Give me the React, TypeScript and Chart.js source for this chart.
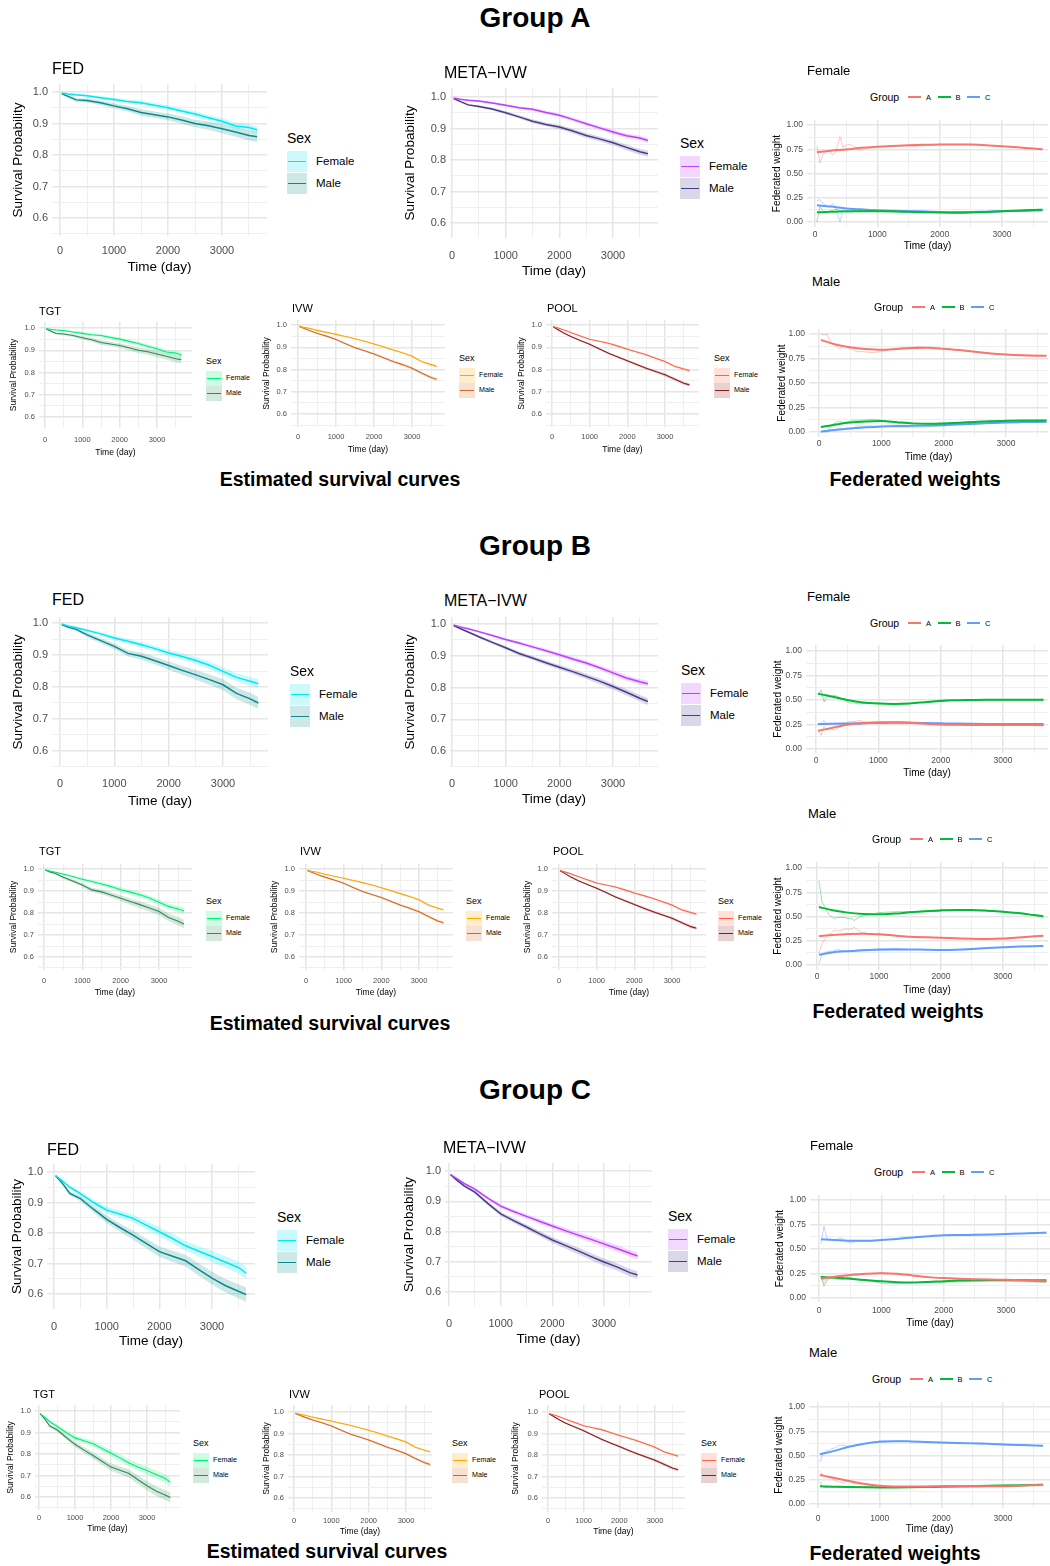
import React, { useEffect, useRef } from "react";
import { Chart, registerables } from "chart.js";
Chart.register(...registerables);

const FONT = "'Liberation Sans', Arial, Helvetica, sans-serif";
const TICK_COLOR = "#4d4d4d";
const GRID_MAJOR = "#e6e6e6";
const GRID_MINOR = "#efefef";

// ---------- time grids ----------
const T = [30, 150, 300, 500, 750, 1000, 1250, 1500, 1750, 2000, 2250, 2500, 2750, 3000, 3250, 3500, 3650];
const WT = [30, 250, 500, 750, 1000, 1250, 1500, 1750, 2000, 2250, 2500, 2750, 3000, 3250, 3500, 3650];
const RT = [30, 80, 130, 180, 230, 280, 330, 400, 450, 500, 550, 600, 700, 850, 1000, 1300, 1600, 2000, 2500, 3000, 3650];

// ---------- axis ticks ----------
const X_TICKS = [0, 500, 1000, 1500, 2000, 2500, 3000, 3500];
const SURV_Y_TICKS = [0.55, 0.6, 0.65, 0.7, 0.75, 0.8, 0.85, 0.9, 0.95, 1.0];
const W_Y_TICKS = [0, 0.125, 0.25, 0.375, 0.5, 0.625, 0.75, 0.875, 1.0];
const GROUPS = ["A", "B", "C"];

// ---------- survival curves ----------
const FED_A_F = [0.997, 0.994, 0.991, 0.988, 0.982, 0.976, 0.970, 0.966, 0.958, 0.950, 0.940, 0.930, 0.918, 0.907, 0.892, 0.887, 0.880];
const FED_A_M = [0.995, 0.986, 0.975, 0.973, 0.966, 0.956, 0.947, 0.935, 0.928, 0.921, 0.911, 0.900, 0.893, 0.883, 0.873, 0.862, 0.858];
const FED_B_F = [0.997, 0.991, 0.985, 0.977, 0.966, 0.953, 0.943, 0.932, 0.920, 0.906, 0.895, 0.883, 0.868, 0.849, 0.830, 0.818, 0.810];
const FED_B_M = [0.995, 0.987, 0.980, 0.963, 0.945, 0.927, 0.905, 0.896, 0.882, 0.867, 0.852, 0.838, 0.823, 0.807, 0.780, 0.763, 0.750];
const FED_C_F = [0.988, 0.972, 0.950, 0.929, 0.900, 0.875, 0.862, 0.848, 0.826, 0.804, 0.782, 0.758, 0.740, 0.723, 0.705, 0.687, 0.668];
const FED_C_M = [0.988, 0.965, 0.930, 0.913, 0.878, 0.845, 0.818, 0.793, 0.766, 0.739, 0.724, 0.709, 0.680, 0.652, 0.628, 0.609, 0.598];
const META_A_F = [0.997, 0.993, 0.990, 0.987, 0.981, 0.974, 0.966, 0.961, 0.951, 0.942, 0.929, 0.915, 0.902, 0.889, 0.877, 0.870, 0.862];
const META_A_M = [0.995, 0.986, 0.975, 0.970, 0.962, 0.950, 0.937, 0.923, 0.913, 0.905, 0.892, 0.878, 0.867, 0.855, 0.840, 0.826, 0.820];
const META_B_F = [0.997, 0.991, 0.985, 0.976, 0.964, 0.951, 0.940, 0.928, 0.916, 0.903, 0.890, 0.877, 0.862, 0.846, 0.830, 0.818, 0.812];
const META_B_M = [0.995, 0.986, 0.975, 0.960, 0.942, 0.925, 0.907, 0.893, 0.878, 0.864, 0.850, 0.835, 0.820, 0.803, 0.785, 0.766, 0.756];
const META_C_F = [0.988, 0.975, 0.958, 0.940, 0.910, 0.884, 0.866, 0.850, 0.834, 0.818, 0.803, 0.788, 0.774, 0.759, 0.744, 0.728, 0.719];
const META_C_M = [0.988, 0.970, 0.950, 0.930, 0.893, 0.858, 0.836, 0.815, 0.793, 0.772, 0.754, 0.736, 0.717, 0.699, 0.683, 0.664, 0.656];
const IVW_F = [0.995, 0.990, 0.985, 0.976, 0.967, 0.958, 0.948, 0.938, 0.927, 0.915, 0.902, 0.888, 0.875, 0.860, 0.836, 0.822, 0.814];
const IVW_M = [0.993, 0.985, 0.975, 0.963, 0.950, 0.935, 0.916, 0.898, 0.884, 0.870, 0.853, 0.836, 0.822, 0.806, 0.784, 0.764, 0.756];
const POOL_F = [0.993, 0.987, 0.979, 0.966, 0.951, 0.936, 0.927, 0.918, 0.905, 0.891, 0.879, 0.866, 0.851, 0.836, 0.815, 0.802, 0.794];
const POOL_M = [0.992, 0.980, 0.965, 0.948, 0.930, 0.913, 0.893, 0.873, 0.856, 0.839, 0.822, 0.806, 0.791, 0.776, 0.757, 0.738, 0.731];

// confidence band half-widths
const CI_FED_A_F = [0.001, 0.002, 0.003, 0.004, 0.005, 0.006, 0.006, 0.007, 0.007, 0.008, 0.008, 0.009, 0.009, 0.010, 0.010, 0.011, 0.011];
const CI_FED_A_M = [0.002, 0.004, 0.005, 0.006, 0.007, 0.008, 0.009, 0.010, 0.010, 0.011, 0.012, 0.012, 0.013, 0.014, 0.015, 0.016, 0.017];
const CI_FED_B_F = [0.001, 0.003, 0.004, 0.005, 0.006, 0.007, 0.008, 0.009, 0.009, 0.010, 0.011, 0.011, 0.012, 0.013, 0.013, 0.014, 0.014];
const CI_FED_B_M = [0.002, 0.004, 0.005, 0.007, 0.008, 0.009, 0.010, 0.011, 0.012, 0.013, 0.014, 0.015, 0.016, 0.017, 0.018, 0.019, 0.019];
const CI_FED_C_F = [0.002, 0.005, 0.007, 0.008, 0.010, 0.011, 0.012, 0.013, 0.014, 0.015, 0.016, 0.016, 0.017, 0.018, 0.019, 0.020, 0.020];
const CI_FED_C_M = [0.002, 0.005, 0.007, 0.009, 0.011, 0.012, 0.013, 0.015, 0.016, 0.017, 0.018, 0.019, 0.020, 0.021, 0.022, 0.023, 0.024];
const CI_META_A_F = [0.001, 0.002, 0.002, 0.003, 0.003, 0.004, 0.004, 0.005, 0.005, 0.005, 0.006, 0.006, 0.006, 0.007, 0.007, 0.007, 0.008];
const CI_META_A_M = [0.001, 0.002, 0.003, 0.004, 0.004, 0.005, 0.005, 0.006, 0.006, 0.007, 0.007, 0.008, 0.008, 0.008, 0.009, 0.009, 0.010];
const CI_META_B_F = [0.001, 0.002, 0.003, 0.003, 0.004, 0.004, 0.005, 0.005, 0.006, 0.006, 0.007, 0.007, 0.007, 0.008, 0.008, 0.009, 0.009];
const CI_META_B_M = [0.001, 0.002, 0.003, 0.004, 0.005, 0.005, 0.006, 0.006, 0.007, 0.007, 0.008, 0.008, 0.009, 0.009, 0.010, 0.010, 0.011];
const CI_META_C_F = [0.002, 0.003, 0.004, 0.005, 0.006, 0.006, 0.007, 0.007, 0.008, 0.008, 0.009, 0.009, 0.010, 0.010, 0.011, 0.011, 0.012];
const CI_META_C_M = [0.002, 0.003, 0.004, 0.005, 0.006, 0.007, 0.008, 0.008, 0.009, 0.010, 0.010, 0.011, 0.011, 0.012, 0.012, 0.013, 0.013];
const CI_IVW_F = [0.001, 0.001, 0.002, 0.002, 0.002, 0.003, 0.003, 0.003, 0.003, 0.004, 0.004, 0.004, 0.004, 0.005, 0.005, 0.005, 0.005];
const CI_IVW_M = [0.001, 0.002, 0.002, 0.003, 0.003, 0.003, 0.004, 0.004, 0.004, 0.005, 0.005, 0.005, 0.006, 0.006, 0.006, 0.007, 0.007];
const CI_POOL_F = [0.001, 0.001, 0.002, 0.002, 0.003, 0.003, 0.003, 0.004, 0.004, 0.004, 0.004, 0.005, 0.005, 0.005, 0.005, 0.006, 0.006];
const CI_POOL_M = [0.001, 0.002, 0.002, 0.003, 0.003, 0.004, 0.004, 0.005, 0.005, 0.005, 0.006, 0.006, 0.006, 0.007, 0.007, 0.007, 0.008];

// ---------- federated weights (smooth on WT, raw on RT) ----------
const WAF_A = [0.720, 0.735, 0.748, 0.765, 0.775, 0.783, 0.790, 0.796, 0.800, 0.800, 0.798, 0.792, 0.782, 0.770, 0.757, 0.750];
const WAF_B = [0.100, 0.105, 0.110, 0.112, 0.112, 0.110, 0.105, 0.100, 0.097, 0.096, 0.098, 0.103, 0.110, 0.117, 0.123, 0.127];
const WAF_C = [0.172, 0.160, 0.140, 0.128, 0.120, 0.115, 0.112, 0.108, 0.103, 0.101, 0.102, 0.106, 0.110, 0.115, 0.118, 0.120];
const WAF_A_RAW = [0.78, 0.61, 0.70, 0.73, 0.74, 0.69, 0.72, 0.88, 0.77, 0.79, 0.80, 0.79, 0.74, 0.76, 0.77, 0.79, 0.78, 0.80, 0.80, 0.78, 0.75];
const WAF_B_RAW = [0.00, 0.16, 0.11, 0.10, 0.11, 0.12, 0.13, 0.12, 0.11, 0.11, 0.11, 0.11, 0.12, 0.11, 0.11, 0.10, 0.10, 0.10, 0.10, 0.11, 0.13];
const WAF_C_RAW = [0.22, 0.23, 0.19, 0.17, 0.15, 0.19, 0.15, 0.00, 0.12, 0.10, 0.09, 0.10, 0.14, 0.13, 0.12, 0.11, 0.12, 0.10, 0.10, 0.11, 0.12];

const WAM_A = [0.940, 0.895, 0.865, 0.848, 0.840, 0.848, 0.858, 0.860, 0.850, 0.836, 0.820, 0.802, 0.790, 0.782, 0.778, 0.778];
const WAM_B = [0.050, 0.075, 0.097, 0.108, 0.112, 0.100, 0.088, 0.083, 0.088, 0.095, 0.103, 0.110, 0.114, 0.117, 0.117, 0.117];
const WAM_C = [0.005, 0.020, 0.035, 0.048, 0.055, 0.060, 0.063, 0.067, 0.072, 0.078, 0.085, 0.092, 0.098, 0.101, 0.103, 0.104];
const WAM_A_RAW = [1.00, 0.99, 1.00, 0.93, 0.90, 0.87, 0.85, 0.88, 0.86, 0.85, 0.84, 0.82, 0.82, 0.81, 0.82, 0.86, 0.87, 0.85, 0.82, 0.79, 0.78];
const WAM_B_RAW = [0.00, 0.01, 0.00, 0.05, 0.08, 0.10, 0.11, 0.09, 0.10, 0.11, 0.12, 0.12, 0.12, 0.13, 0.12, 0.09, 0.08, 0.09, 0.10, 0.11, 0.12];
const WAM_C_RAW = [0.00, 0.00, 0.00, 0.02, 0.02, 0.03, 0.04, 0.03, 0.04, 0.04, 0.04, 0.06, 0.06, 0.06, 0.06, 0.05, 0.05, 0.06, 0.08, 0.10, 0.10];

const WBF_A = [0.185, 0.215, 0.248, 0.265, 0.274, 0.273, 0.268, 0.258, 0.251, 0.248, 0.246, 0.245, 0.245, 0.244, 0.244, 0.243];
const WBF_B = [0.565, 0.535, 0.500, 0.475, 0.464, 0.460, 0.465, 0.477, 0.490, 0.497, 0.500, 0.502, 0.503, 0.503, 0.503, 0.503];
const WBF_C = [0.255, 0.257, 0.260, 0.263, 0.266, 0.267, 0.267, 0.265, 0.262, 0.259, 0.257, 0.256, 0.256, 0.256, 0.256, 0.256];
const WBF_A_RAW = [0.20, 0.14, 0.23, 0.19, 0.21, 0.19, 0.21, 0.23, 0.25, 0.27, 0.28, 0.28, 0.29, 0.27, 0.27, 0.27, 0.26, 0.25, 0.25, 0.25, 0.24];
const WBF_B_RAW = [0.55, 0.60, 0.48, 0.56, 0.53, 0.55, 0.54, 0.52, 0.50, 0.48, 0.47, 0.47, 0.46, 0.47, 0.47, 0.45, 0.47, 0.50, 0.50, 0.50, 0.50];
const WBF_C_RAW = [0.25, 0.26, 0.29, 0.25, 0.26, 0.26, 0.25, 0.25, 0.25, 0.25, 0.25, 0.25, 0.25, 0.26, 0.26, 0.28, 0.27, 0.25, 0.25, 0.25, 0.26];

const WBM_A = [0.297, 0.310, 0.320, 0.322, 0.316, 0.303, 0.291, 0.285, 0.281, 0.275, 0.270, 0.268, 0.272, 0.283, 0.296, 0.302];
const WBM_B = [0.598, 0.565, 0.540, 0.527, 0.522, 0.530, 0.543, 0.554, 0.563, 0.568, 0.567, 0.560, 0.550, 0.535, 0.515, 0.503];
const WBM_C = [0.105, 0.130, 0.143, 0.152, 0.160, 0.162, 0.161, 0.158, 0.155, 0.158, 0.165, 0.175, 0.183, 0.190, 0.194, 0.195];
const WBM_A_RAW = [0.12, 0.22, 0.27, 0.31, 0.33, 0.36, 0.35, 0.36, 0.37, 0.37, 0.37, 0.39, 0.34, 0.32, 0.31, 0.30, 0.29, 0.28, 0.27, 0.27, 0.30];
const WBM_B_RAW = [0.87, 0.65, 0.60, 0.53, 0.50, 0.48, 0.49, 0.49, 0.49, 0.48, 0.48, 0.46, 0.50, 0.52, 0.54, 0.55, 0.55, 0.57, 0.56, 0.55, 0.50];
const WBM_C_RAW = [0.01, 0.11, 0.13, 0.14, 0.14, 0.15, 0.16, 0.15, 0.14, 0.15, 0.15, 0.15, 0.16, 0.16, 0.15, 0.15, 0.16, 0.15, 0.17, 0.18, 0.20];

const WCF_A = [0.197, 0.218, 0.235, 0.248, 0.253, 0.247, 0.230, 0.213, 0.203, 0.197, 0.192, 0.188, 0.185, 0.180, 0.173, 0.170];
const WCF_B = [0.215, 0.207, 0.196, 0.183, 0.170, 0.161, 0.158, 0.163, 0.172, 0.178, 0.182, 0.184, 0.184, 0.183, 0.181, 0.180];
const WCF_C = [0.600, 0.592, 0.585, 0.585, 0.592, 0.603, 0.617, 0.630, 0.640, 0.643, 0.645, 0.648, 0.653, 0.658, 0.664, 0.667];
const WCF_A_RAW = [0.22, 0.15, 0.22, 0.20, 0.20, 0.19, 0.20, 0.21, 0.22, 0.23, 0.23, 0.23, 0.24, 0.25, 0.26, 0.24, 0.22, 0.20, 0.19, 0.18, 0.17];
const WCF_B_RAW = [0.23, 0.12, 0.18, 0.20, 0.21, 0.21, 0.19, 0.19, 0.21, 0.21, 0.20, 0.19, 0.18, 0.17, 0.15, 0.15, 0.16, 0.16, 0.17, 0.17, 0.16];
const WCF_C_RAW = [0.55, 0.73, 0.60, 0.60, 0.59, 0.60, 0.61, 0.60, 0.57, 0.56, 0.57, 0.58, 0.58, 0.58, 0.59, 0.61, 0.62, 0.64, 0.64, 0.65, 0.67];

const WCM_A = [0.300, 0.270, 0.238, 0.208, 0.188, 0.180, 0.180, 0.181, 0.182, 0.183, 0.184, 0.184, 0.184, 0.188, 0.194, 0.198];
const WCM_B = [0.182, 0.178, 0.174, 0.172, 0.171, 0.171, 0.172, 0.174, 0.177, 0.180, 0.183, 0.186, 0.188, 0.192, 0.196, 0.198];
const WCM_C = [0.512, 0.545, 0.590, 0.622, 0.642, 0.648, 0.645, 0.640, 0.635, 0.630, 0.625, 0.620, 0.614, 0.608, 0.603, 0.600];
const WCM_A_RAW = [0.34, 0.30, 0.28, 0.27, 0.26, 0.24, 0.23, 0.22, 0.23, 0.24, 0.22, 0.21, 0.20, 0.19, 0.18, 0.18, 0.18, 0.18, 0.18, 0.18, 0.20];
const WCM_B_RAW = [0.23, 0.18, 0.17, 0.18, 0.17, 0.18, 0.17, 0.17, 0.17, 0.17, 0.18, 0.18, 0.18, 0.18, 0.17, 0.17, 0.18, 0.19, 0.19, 0.20, 0.20];
const WCM_C_RAW = [0.43, 0.52, 0.55, 0.55, 0.57, 0.58, 0.60, 0.61, 0.60, 0.59, 0.60, 0.61, 0.62, 0.63, 0.65, 0.65, 0.64, 0.63, 0.63, 0.62, 0.60];

// ---------- colours ----------
const COLORS: Record<string, [string, string]> = {
  FED: ["#00E8F0", "#0A8B8B"],
  META: ["#BF3EFF", "#483D8B"],
  TGT: ["#00EE76", "#2E8B57"],
  IVW: ["#FFA500", "#D2691E"],
  POOL: ["#FF6347", "#8B1A1A"],
};
const W_COLORS = ["#F8766D", "#00BA38", "#619CFF"];

const SURV_DATA: Record<string, any> = {
  FED_A: [FED_A_F, FED_A_M, CI_FED_A_F, CI_FED_A_M],
  FED_B: [FED_B_F, FED_B_M, CI_FED_B_F, CI_FED_B_M],
  FED_C: [FED_C_F, FED_C_M, CI_FED_C_F, CI_FED_C_M],
  TGT_A: [FED_A_F, FED_A_M, CI_FED_A_F, CI_FED_A_M],
  TGT_B: [FED_B_F, FED_B_M, CI_FED_B_F, CI_FED_B_M],
  TGT_C: [FED_C_F, FED_C_M, CI_FED_C_F, CI_FED_C_M],
  META_A: [META_A_F, META_A_M, CI_META_A_F, CI_META_A_M],
  META_B: [META_B_F, META_B_M, CI_META_B_F, CI_META_B_M],
  META_C: [META_C_F, META_C_M, CI_META_C_F, CI_META_C_M],
  IVW_A: [IVW_F, IVW_M, CI_IVW_F, CI_IVW_M],
  IVW_B: [IVW_F, IVW_M, CI_IVW_F, CI_IVW_M],
  IVW_C: [IVW_F, IVW_M, CI_IVW_F, CI_IVW_M],
  POOL_A: [POOL_F, POOL_M, CI_POOL_F, CI_POOL_M],
  POOL_B: [POOL_F, POOL_M, CI_POOL_F, CI_POOL_M],
  POOL_C: [POOL_F, POOL_M, CI_POOL_F, CI_POOL_M],
};
const W_DATA: Record<string, any> = {
  A_Female: [[WAF_A, WAF_B, WAF_C], [WAF_A_RAW, WAF_B_RAW, WAF_C_RAW]],
  A_Male: [[WAM_A, WAM_B, WAM_C], [WAM_A_RAW, WAM_B_RAW, WAM_C_RAW]],
  B_Female: [[WBF_A, WBF_B, WBF_C], [WBF_A_RAW, WBF_B_RAW, WBF_C_RAW]],
  B_Male: [[WBM_A, WBM_B, WBM_C], [WBM_A_RAW, WBM_B_RAW, WBM_C_RAW]],
  C_Female: [[WCF_A, WCF_B, WCF_C], [WCF_A_RAW, WCF_B_RAW, WCF_C_RAW]],
  C_Male: [[WCM_A, WCM_B, WCM_C], [WCM_A_RAW, WCM_B_RAW, WCM_C_RAW]],
};

const TITLES: Record<string, string> = { FED: "FED", META: "META\u2212IVW", TGT: "TGT", IVW: "IVW", POOL: "POOL" };

// ---------- layout ----------
const SURV_PANELS = [
  { m: "FED", g: "A", kind: "big", plotL: 52, plotR: 267, plotT: 84, plotB: 236, px0: 60, px3000: 222, py1: 92, py06: 218, yTitleX: 19, xTickY: 251, xTitleY: 266, titleX: 52, titleY: 69, legX: 287, legY: 138 },
  { m: "META", g: "A", kind: "big", plotL: 450, plotR: 658, plotT: 88, plotB: 238, px0: 452, px3000: 613, py1: 97, py06: 223, yTitleX: 411, xTickY: 256, xTitleY: 270, titleX: 444, titleY: 73, legX: 680, legY: 143 },
  { m: "TGT", g: "A", kind: "small", plotL: 39, plotR: 192, plotT: 322, plotB: 428, px0: 45, px3000: 157, py1: 328, py06: 417, yTitleX: 15, xTickY: 440, xTitleY: 452, titleX: 39, titleY: 312, legX: 206, legY: 361 },
  { m: "IVW", g: "A", kind: "small", plotL: 291, plotR: 445, plotT: 320, plotB: 427, px0: 298, px3000: 412, py1: 325, py06: 414, yTitleX: 268, xTickY: 437, xTitleY: 449, titleX: 292, titleY: 309, legX: 459, legY: 358 },
  { m: "POOL", g: "A", kind: "small", plotL: 546, plotR: 699, plotT: 320, plotB: 427, px0: 552, px3000: 665, py1: 325, py06: 414, yTitleX: 523, xTickY: 437, xTitleY: 449, titleX: 547, titleY: 309, legX: 714, legY: 358 },

  { m: "FED", g: "B", kind: "big", plotL: 52, plotR: 268, plotT: 617, plotB: 767, px0: 60, px3000: 223, py1: 623, py06: 751, yTitleX: 19, xTickY: 784, xTitleY: 800, titleX: 52, titleY: 600, legX: 290, legY: 671 },
  { m: "META", g: "B", kind: "big", plotL: 450, plotR: 658, plotT: 617, plotB: 767, px0: 452, px3000: 613, py1: 624, py06: 751, yTitleX: 411, xTickY: 784, xTitleY: 798, titleX: 444, titleY: 601, legX: 681, legY: 670 },
  { m: "TGT", g: "B", kind: "small", plotL: 38, plotR: 192, plotT: 864, plotB: 970, px0: 44, px3000: 159, py1: 869, py06: 957, yTitleX: 15, xTickY: 981, xTitleY: 992, titleX: 39, titleY: 852, legX: 206, legY: 901 },
  { m: "IVW", g: "B", kind: "small", plotL: 299, plotR: 453, plotT: 864, plotB: 970, px0: 306, px3000: 419, py1: 869, py06: 957, yTitleX: 276, xTickY: 981, xTitleY: 992, titleX: 300, titleY: 852, legX: 466, legY: 901 },
  { m: "POOL", g: "B", kind: "small", plotL: 552, plotR: 706, plotT: 864, plotB: 970, px0: 559, px3000: 672, py1: 869, py06: 957, yTitleX: 529, xTickY: 981, xTitleY: 992, titleX: 553, titleY: 852, legX: 718, legY: 901 },

  { m: "FED", g: "C", kind: "big", plotL: 47, plotR: 255, plotT: 1164, plotB: 1309, px0: 54, px3000: 212, py1: 1172, py06: 1294, yTitleX: 18, xTickY: 1327, xTitleY: 1340, titleX: 47, titleY: 1150, legX: 277, legY: 1217 },
  { m: "META", g: "C", kind: "big", plotL: 445, plotR: 652, plotT: 1163, plotB: 1306, px0: 449, px3000: 604, py1: 1171, py06: 1292, yTitleX: 410, xTickY: 1324, xTitleY: 1338, titleX: 443, titleY: 1148, legX: 668, legY: 1216 },
  { m: "TGT", g: "C", kind: "small", plotL: 35, plotR: 180, plotT: 1405, plotB: 1510, px0: 39, px3000: 147, py1: 1411, py06: 1497, yTitleX: 12, xTickY: 1518, xTitleY: 1528, titleX: 33, titleY: 1395, legX: 193, legY: 1443 },
  { m: "IVW", g: "C", kind: "small", plotL: 288, plotR: 432, plotT: 1405, plotB: 1512, px0: 294, px3000: 406, py1: 1412, py06: 1498, yTitleX: 268, xTickY: 1521, xTitleY: 1531, titleX: 289, titleY: 1395, legX: 452, legY: 1443 },
  { m: "POOL", g: "C", kind: "small", plotL: 542, plotR: 685, plotT: 1405, plotB: 1512, px0: 548, px3000: 655, py1: 1412, py06: 1498, yTitleX: 517, xTickY: 1521, xTitleY: 1531, titleX: 539, titleY: 1395, legX: 701, legY: 1443 },
];

const W_PANELS = [
  { g: "A", sex: "Female", plotL: 807, plotR: 1048, plotT: 120, plotB: 227, px0: 815, px3000: 1002, py1: 125, py0: 222, yTitleX: 777, xTickY: 235, xTitleY: 246, titleX: 807, titleY: 71, legX: 870, legY: 97 },
  { g: "A", sex: "Male", plotL: 809, plotR: 1048, plotT: 329, plotB: 437, px0: 819, px3000: 1006, py1: 334, py0: 432, yTitleX: 782, xTickY: 444, xTitleY: 457, titleX: 812, titleY: 282, legX: 874, legY: 307 },
  { g: "B", sex: "Female", plotL: 806, plotR: 1048, plotT: 645, plotB: 753, px0: 816, px3000: 1003, py1: 651, py0: 749, yTitleX: 778, xTickY: 761, xTitleY: 773, titleX: 807, titleY: 597, legX: 870, legY: 623 },
  { g: "B", sex: "Male", plotL: 806, plotR: 1048, plotT: 862, plotB: 970, px0: 817, px3000: 1003, py1: 868, py0: 965, yTitleX: 778, xTickY: 977, xTitleY: 990, titleX: 808, titleY: 814, legX: 872, legY: 839 },
  { g: "C", sex: "Female", plotL: 810, plotR: 1050, plotT: 1195, plotB: 1302, px0: 819, px3000: 1006, py1: 1200, py0: 1298, yTitleX: 780, xTickY: 1311, xTitleY: 1323, titleX: 810, titleY: 1146, legX: 874, legY: 1172 },
  { g: "C", sex: "Male", plotL: 809, plotR: 1050, plotT: 1402, plotB: 1508, px0: 818, px3000: 1003, py1: 1407, py0: 1504, yTitleX: 779, xTickY: 1519, xTitleY: 1529, titleX: 809, titleY: 1353, legX: 872, legY: 1379 },
];

const SECTIONS = [
  { title: "Group A", y: 18, cap1: [340, 480], cap2: [915, 480] },
  { title: "Group B", y: 546, cap1: [330, 1024], cap2: [898, 1012] },
  { title: "Group C", y: 1090, cap1: [327, 1552], cap2: [895, 1554] },
];

const FONTS: Record<string, any> = {
  big: { title: 16, axis: 13.5, tick: 11, legTitle: 14, legLabel: 11.5, line: 1.5 },
  small: { title: 11, axis: 8.5, tick: 7.5, legTitle: 9, legLabel: 7.2, line: 1.1 },
  w: { title: 13, axis: 10, tick: 8.5 },
};

// ---------- helpers ----------
const hexA = (hex: string, a: number) => {
  const n = parseInt(hex.slice(1), 16);
  return `rgba(${n >> 16},${(n >> 8) & 255},${n & 255},${a})`;
};
const pts = (t: number[], v: number[]) => t.map((x, i) => ({ x, y: v[i] }));

function geom(p: any, axisFont: number, tickFont: number, yTopVal: number, yLowVal: number, pyTop: number, pyLow: number) {
  const lh = axisFont * 1.2;
  const l = Math.floor(p.yTitleX - lh / 2);
  const t = p.plotT - 6;
  const r = Math.min(1050, p.plotR + 2);
  const b = Math.ceil(p.xTitleY + lh / 2);
  const xpp = 3000 / (p.px3000 - p.px0);
  const ypp = (yTopVal - yLowVal) / (pyLow - pyTop);
  return {
    l, t, w: r - l, h: b - t,
    yAxisW: p.plotL - l, xAxisH: b - p.plotB, padRight: r - p.plotR,
    xmin: -(p.px0 - p.plotL) * xpp, xmax: 3000 + (p.plotR - p.px3000) * xpp,
    ymax: yTopVal + (pyTop - p.plotT) * ypp, ymin: yLowVal - (p.plotB - pyLow) * ypp,
    tickPad: Math.max(0, p.xTickY - p.plotB - 0.6 * tickFont),
  };
}

function baseOptions(gm: any, f: any, yTicks: number[], isMajorY: (v: number) => boolean, yDec: number, yTitle: string) {
  return {
    animation: false,
    responsive: false,
    maintainAspectRatio: false,
    events: [],
    layout: { padding: { top: 6, right: gm.padRight, left: 0, bottom: 0 } },
    plugins: { legend: { display: false }, tooltip: { enabled: false }, title: { display: false } },
    elements: { point: { radius: 0 } },
    scales: {
      x: {
        type: "linear",
        min: gm.xmin,
        max: gm.xmax,
        afterBuildTicks: (ax: any) => {
          ax.ticks = X_TICKS.filter((v) => v >= gm.xmin && v <= gm.xmax).map((v) => ({ value: v }));
        },
        afterFit: (s: any) => {
          s.height = gm.xAxisH;
          s.paddingLeft = 0;
          s.paddingRight = 0;
        },
        ticks: {
          autoSkip: false, maxRotation: 0, minRotation: 0, padding: gm.tickPad, color: TICK_COLOR,
          font: { family: FONT, size: f.tick },
          callback: (v: any) => (Math.round(v) % 1000 === 0 ? String(Math.round(v)) : ""),
        },
        grid: {
          drawTicks: false,
          color: (c: any) => (c.tick && Math.round(c.tick.value) % 1000 === 0 ? GRID_MAJOR : GRID_MINOR),
          lineWidth: (c: any) => (c.tick && Math.round(c.tick.value) % 1000 === 0 ? 1.5 : 1),
        },
        border: { display: false },
        title: { display: true, text: "Time (day)", color: "#000", font: { family: FONT, size: f.axis }, padding: 0 },
      },
      y: {
        type: "linear",
        min: gm.ymin,
        max: gm.ymax,
        afterBuildTicks: (ax: any) => {
          ax.ticks = yTicks.filter((v) => v >= gm.ymin && v <= gm.ymax).map((v) => ({ value: v }));
        },
        afterFit: (s: any) => {
          s.width = gm.yAxisW;
          s.paddingTop = 0;
          s.paddingBottom = 0;
        },
        ticks: {
          autoSkip: false, padding: 4, color: TICK_COLOR,
          font: { family: FONT, size: f.tick },
          callback: (v: any) => (isMajorY(v) ? Number(v).toFixed(yDec) : ""),
        },
        grid: {
          drawTicks: false,
          color: (c: any) => (c.tick && isMajorY(c.tick.value) ? GRID_MAJOR : GRID_MINOR),
          lineWidth: (c: any) => (c.tick && isMajorY(c.tick.value) ? 1.5 : 1),
        },
        border: { display: false },
        title: { display: true, text: yTitle, color: "#000", font: { family: FONT, size: f.axis }, padding: 0 },
      },
    },
  };
}

function survConfig(p: any) {
  const f = FONTS[p.kind];
  const gm = geom(p, f.axis, f.tick, 1.0, 0.6, p.py1, p.py06);
  const [F, M, ciF, ciM] = SURV_DATA[`${p.m}_${p.g}`];
  const [cF, cM] = COLORS[p.m];
  const line = (v: number[], c: string) => ({
    data: pts(T, v), borderColor: c, borderWidth: f.line, pointRadius: 0, fill: false, tension: 0,
  });
  const band = (v: number[], ci: number[], c: string) => [
    { data: pts(T, v.map((y, i) => y - ci[i])), borderWidth: 0, borderColor: "rgba(0,0,0,0)", pointRadius: 0, fill: false },
    { data: pts(T, v.map((y, i) => y + ci[i])), borderWidth: 0, borderColor: "rgba(0,0,0,0)", pointRadius: 0, fill: "-1", backgroundColor: hexA(c, 0.2) },
  ];
  const isMajor = (v: number) => Math.abs(v * 10 - Math.round(v * 10)) < 1e-6;
  return {
    gm,
    config: {
      type: "line",
      data: { datasets: [line(F, cF), line(M, cM), ...band(F, ciF, cF), ...band(M, ciM, cM)] },
      options: baseOptions(gm, f, SURV_Y_TICKS, isMajor, 1, "Survival Probability"),
    },
  };
}

function weightConfig(p: any) {
  const f = FONTS.w;
  const gm = geom(p, f.axis, f.tick, 1.0, 0.0, p.py1, p.py0);
  const [sm, raw] = W_DATA[`${p.g}_${p.sex}`];
  const isMajor = (v: number) => Math.abs(v * 4 - Math.round(v * 4)) < 1e-6;
  const smooth = sm.map((v: number[], i: number) => ({
    data: pts(WT, v), borderColor: W_COLORS[i], borderWidth: 2, pointRadius: 0, fill: false,
    tension: 0.4, cubicInterpolationMode: "monotone",
  }));
  const rawSets = raw.map((v: number[], i: number) => ({
    data: pts(RT, v), borderColor: hexA(W_COLORS[i], 0.45), borderWidth: 0.9, pointRadius: 0, fill: false, tension: 0,
  }));
  return {
    gm,
    config: {
      type: "line",
      data: { datasets: [...smooth, ...rawSets] },
      options: baseOptions(gm, f, W_Y_TICKS, isMajor, 2, "Federated weight"),
    },
  };
}

// ---------- components ----------
function Txt({ x, y, size, bold, center, color, children }: any) {
  return (
    <div
      style={{
        position: "absolute", left: x, top: y - size * 0.6, fontSize: size, lineHeight: `${size * 1.2}px`,
        fontWeight: bold ? 700 : 400, color: color || "#000", whiteSpace: "nowrap", fontFamily: FONT,
        transform: center ? "translateX(-50%)" : undefined,
      }}
    >
      {children}
    </div>
  );
}

function ChartCanvas({ build }: any) {
  const ref = useRef<HTMLCanvasElement>(null);
  const { gm, config } = build;
  useEffect(() => {
    const chart = new Chart(ref.current as HTMLCanvasElement, config as any);
    return () => chart.destroy();
  }, []);
  return (
    <canvas
      ref={ref}
      width={gm.w}
      height={gm.h}
      style={{ position: "absolute", left: gm.l, top: gm.t, width: gm.w, height: gm.h }}
    />
  );
}

function SexLegend({ p }: any) {
  const big = p.kind === "big";
  const f = FONTS[p.kind];
  const [cF, cM] = COLORS[p.m];
  const bw = big ? 20 : 16;
  const bh = big ? 21 : 15;
  const top1 = p.legY + (big ? 13 : 10);
  const tops = [top1, top1 + bh + (big ? 1 : 0)];
  const lx = p.legX + (big ? 29 : 20);
  return (
    <>
      <Txt x={p.legX} y={p.legY} size={f.legTitle}>Sex</Txt>
      {[
        ["Female", cF],
        ["Male", cM],
      ].map(([lab, c], i) => (
        <React.Fragment key={lab}>
          <div style={{ position: "absolute", left: p.legX, top: tops[i], width: bw, height: bh, background: hexA(c, 0.2) }} />
          <div style={{ position: "absolute", left: p.legX + 1, top: tops[i] + bh / 2 - 0.75, width: bw - 2, height: big ? 1.5 : 1.2, background: c }} />
          <Txt x={lx} y={tops[i] + bh / 2} size={f.legLabel}>{lab}</Txt>
        </React.Fragment>
      ))}
    </>
  );
}

function GroupLegend({ x, y }: any) {
  return (
    <>
      <Txt x={x} y={y} size={10.5}>Group</Txt>
      {GROUPS.map((k, i) => (
        <React.Fragment key={k}>
          <div style={{ position: "absolute", left: x + 38 + i * 29.5, top: y - 1, width: 13, height: 2, background: W_COLORS[i] }} />
          <Txt x={x + 56 + i * 29.5} y={y} size={7.5}>{k}</Txt>
        </React.Fragment>
      ))}
    </>
  );
}

export default function App() {
  return (
    <div style={{ position: "absolute", left: 0, top: 0, width: 1050, height: 1566, background: "#fff", overflow: "hidden", fontFamily: FONT }}>
      {SECTIONS.map((s) => (
        <React.Fragment key={s.title}>
          <Txt x={535} y={s.y} size={28} bold center>{s.title}</Txt>
          <Txt x={s.cap1[0]} y={s.cap1[1]} size={19.5} bold center>Estimated survival curves</Txt>
          <Txt x={s.cap2[0]} y={s.cap2[1]} size={19.5} bold center>Federated weights</Txt>
        </React.Fragment>
      ))}
      {SURV_PANELS.map((p) => (
        <React.Fragment key={`${p.m}_${p.g}`}>
          <ChartCanvas build={survConfig(p)} />
          <Txt x={p.titleX} y={p.titleY} size={FONTS[p.kind].title}>{TITLES[p.m]}</Txt>
          <SexLegend p={p} />
        </React.Fragment>
      ))}
      {W_PANELS.map((p) => (
        <React.Fragment key={`${p.g}_${p.sex}`}>
          <ChartCanvas build={weightConfig(p)} />
          <Txt x={p.titleX} y={p.titleY} size={FONTS.w.title}>{p.sex}</Txt>
          <GroupLegend x={p.legX} y={p.legY} />
        </React.Fragment>
      ))}
    </div>
  );
}
